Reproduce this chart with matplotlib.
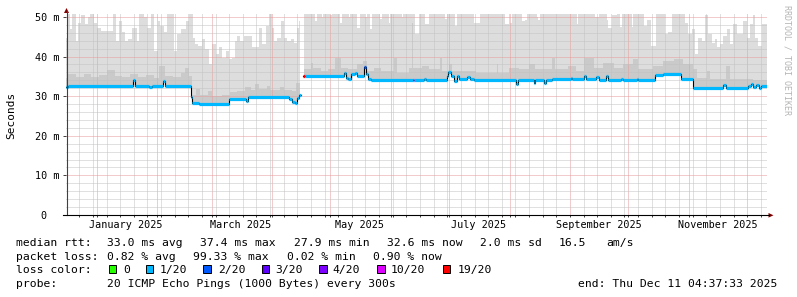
import numpy as np
import matplotlib
matplotlib.use("Agg")
import matplotlib.pyplot as plt
import matplotlib.dates as mdates
from matplotlib.ticker import MultipleLocator, NullFormatter, FuncFormatter
from matplotlib.patches import Rectangle, Polygon
from matplotlib.lines import Line2D
from datetime import datetime

# ---------------- data ----------------
start_time = datetime(2024, 12, 16, 4, 37, 33)
span_days = 360

# median rtt (ms): step changes, day offsets from start
med_day = [0, 1, 34.4, 35.4, 42.6, 44.1, 49.8, 50.8, 64.1, 64.9, 68.2, 83.6, 92.4, 93.4,
           114.4, 116, 117.5, 118.5, 119.8, 120.6, 121.9, 122.6, 142.6, 143.7, 144.7, 146.2,
           148.3, 149.3, 152.9, 153.9, 155, 156.5, 178.2, 178.7, 183.7, 184.7, 195.5, 196.3,
           197.5, 199.1, 200.6, 201.6, 205.8, 207.3, 209.3, 230.9, 232, 240.1, 241.1, 245.3,
           246.3, 249.4, 259.1, 260.1, 265.8, 266.8, 272.4, 273.5, 277.1, 278.1, 284.8, 285.8,
           293, 294, 302.7, 306.8, 316, 322.2, 337.6, 339.1, 350.4, 352, 353, 354.5, 356, 357]
med_val = [32.2, 32.6, 34.0, 32.6, 32.4, 32.6, 33.8, 32.6, 29.8, 28.2, 27.9, 29.2, 28.9, 29.8,
           29.4, 28.6, 28.4, 29.6, 30.3, np.nan, 35.1, 35.1, 35.9, 34.7, 34.3, 35.5,
           35.9, 35.1, 37.4, 35.5, 34.3, 34.0, 34.0, 34.0, 34.4, 34.0, 35.1, 36.2,
           35.1, 33.8, 35.1, 34.3, 34.8, 34.3, 34.0, 33.2, 34.0, 33.4, 34.0, 33.4,
           34.0, 34.3, 34.6, 34.3, 35.0, 34.4, 34.9, 34.2, 35.1, 34.2, 34.4, 34.1,
           34.4, 34.2, 35.3, 35.7, 34.3, 32.1, 32.7, 32.1, 32.5, 33.0, 32.3, 32.8, 32.1, 32.6]
# packet loss per median step (pings lost of 20)
med_loss = [1, 1, 1, 1, 1, 1, 1, 1, 1, 1, 1, 1, 1, 1,
            1, 1, 1, 1, 1, 1, 19, 1, 1, 1, 1, 1,
            1, 1, 2, 1, 1, 1, 10, 1, 1, 1, 1, 1,
            1, 1, 1, 1, 1, 1, 1, 1, 1, 1, 1, 1,
            1, 1, 1, 1, 1, 1, 1, 1, 1, 1, 1, 1,
            1, 1, 1, 1, 1, 1, 1, 1, 1, 1, 1, 1, 1, 1]

# outer smoke (max ping, ms)
light_day = [0, 1, 2, 3, 5, 6, 7.5, 10, 11.5, 12.5, 14.5, 16, 18, 24, 25.5, 27, 29, 30.5, 32,
             34, 36.5, 37.5, 40, 41.5, 43.5, 45, 47, 48.5, 50.5, 52, 55.5, 57, 59, 61.5, 63,
             65, 66.5, 68, 70, 71.5, 73.5, 75, 77, 78.5, 80, 82, 83.5, 85.5, 87, 88, 89.6,
             91.3, 95.6, 99, 100.7, 102.5, 104.2, 105.9, 106.7, 108.4, 110.2, 111.9, 113.5,
             115.3, 117, 118.7, 119.5, 121.2, 122.4, 128.1, 128.9, 131.3, 132, 135.8, 136.5,
             140.9, 141.8, 145.2, 146, 149.5, 150.8, 153.8, 154.5, 156, 156.9, 161.5, 162.3,
             165.7, 166.5, 172.5, 173.3, 179.4, 181.1, 184.6, 186.3, 194.8, 195.6, 200, 200.8,
             209.3, 212.8, 225.6, 227.3, 228.2, 229, 234, 235.9, 236.5, 241.7, 242.5, 243.3,
             262.2, 263, 271.8, 273.5, 277.7, 278.6, 280.3, 282.9, 284.6, 285.4, 290.6, 291.2,
             296.6, 298.3, 300.4, 303.2, 307.7, 309.4, 311.1, 318, 319.6, 321.3, 323, 324.7,
             326.4, 328.1, 329.8, 331.5, 333.2, 334.1, 335.9, 337.6, 339.3, 341, 342.7, 344.4,
             347.8, 349.5, 351.2, 352.9, 353.8, 355.5, 357.3]
light_val = [44.8, 50.7, 46.9, 50.7, 44.0, 48.6, 50.4, 48.2, 50.1, 50.7, 48.6, 47.3, 46.5, 50.7,
             44.0, 49.0, 46.1, 44.0, 44.4, 47.3, 44.0, 50.7, 50.1, 47.3, 50.7, 41.4, 49.0, 47.8,
             46.1, 50.7, 41.4, 45.7, 46.9, 49.0, 50.7, 44.8, 43.1, 42.7, 44.4, 41.8, 38.1, 43.1,
             40.6, 42.3, 39.7, 41.4, 39.3, 39.7, 44.0, 45.3, 44.0, 45.3, 42.3, 47.3, 43.1, 47.8,
             50.7, 47.3, 44.0, 44.8, 49.0, 44.8, 44.0, 44.4, 43.5, 47.3, 49.0, np.nan, 50.7,
             49.0, 50.7, 50.1, 50.7, 50.4, 50.7, 48.6, 50.7, 50.1, 50.7, 47.3, 50.7, 50.1, 50.7,
             46.9, 50.7, 49.6, 50.7, 48.6, 50.7, 50.1, 50.7, 45.7, 50.7, 48.2, 50.7, 49.5, 50.7,
             47.8, 50.7, 48.6, 50.7, 48.2, 50.7, 48.5, 50.7, 49.0, 49.3, 50.7, 50.1, 49.3, 50.7,
             48.2, 50.7, 50.1, 50.7, 49.3, 47.3, 50.4, 50.7, 47.5, 50.7, 47.5, 50.7,
             47.8, 49.3, 42.6, 50.7, 45.6, 46.1, 50.7, 48.6, 45.7, 46.9, 40.6, 44.8,
             44.0, 50.4, 45.7, 43.5, 44.4, 42.3, 43.1, 45.3, 46.9, 43.1, 48.2, 45.7,
             49.0, 44.8, 48.2, 50.4, 44.8, 42.7, 48.2]

# inner smoke (dense part of the ping spread, ms)
dark_day = [0, 1, 5, 9, 13, 17, 21, 25, 29, 33, 37, 41, 45, 48, 51, 55, 59, 61, 63, 64.5, 67,
            69, 73, 75, 80, 84, 88, 92, 95, 97, 99, 103, 105, 110, 112, 116, 118, 120, 121.2,
            122.4, 126, 127, 131, 134.6, 138, 141.2, 144.6, 149.7, 152.5, 154.6, 158, 161.6,
            168.3, 170, 176, 177.6, 178.3, 182.8, 186.3, 192.3, 193.1, 196.5, 198.2, 210.4,
            221.2, 222, 227.3, 232.4, 237.6, 241, 249.5, 251.2, 258, 261.7, 265.8, 270.9, 276,
            281.2, 286.3, 291.4, 294, 301.7, 306.8, 312, 317.1, 322.2, 323.9, 329, 330.7,
            339.1, 340.8, 352.7]
dark_val = [34.7, 35.5, 34.8, 35.6, 34.8, 35.3, 36.6, 35.2, 34.8, 35.6, 34.8, 35.3, 34.6, 37.6,
            35.2, 34.8, 35.9, 37.0, 35.0, 30.4, 31.8, 30.2, 31.2, 30.0, 30.4, 31.0, 31.4, 32.2,
            31.6, 33.2, 31.8, 32.6, 31.6, 32.4, 31.6, 31.4, 33.4, 32.0, np.nan, 36.8, 38.5, 37.2,
            36.4, 36.8, 39.7, 37.2, 36.8, 38.1, 39.0, 36.4, 37.2, 36.4, 39.7, 35.9, 37.2, 48.5,
            37.2, 37.6, 36.8, 39.7, 36.4, 38.1, 36.4, 35.9, 38.1, 35.9, 37.2, 36.8, 38.1, 36.8,
            39.7, 36.8, 37.6, 36.4, 39.7, 37.2, 38.5, 37.2, 38.1, 39.3, 36.8, 37.6, 38.9, 39.3,
            38.1, 36.8, 34.7, 36.4, 34.3, 37.6, 34.3, 34.0]

y_ticks = [0, 10, 20, 30, 40, 50]
y_tick_labels = ["0  ", "10 m", "20 m", "30 m", "40 m", "50 m"]
month_labels = ["January 2025", "March 2025", "May 2025", "July 2025",
                "September 2025", "November 2025"]
month_label_dates = [datetime(2025, 1, 16), datetime(2025, 3, 16), datetime(2025, 5, 16),
                     datetime(2025, 7, 16), datetime(2025, 9, 16), datetime(2025, 11, 16)]

loss_names = ["0", "1/20", "2/20", "3/20", "4/20", "10/20", "19/20"]
loss_counts = [0, 1, 2, 3, 4, 10, 19]
loss_colors = ["#26ff00", "#00b8ff", "#0059ff", "#5e00ff", "#7e00ff", "#dd00ff", "#ff0000"]

# ---------------- figure ----------------
W, H = 797, 297
MONO = "DejaVu Sans Mono"
fig = plt.figure(figsize=(W / 100, H / 100), dpi=100)
fig.patch.set_facecolor("white")


def fx(px):
    return px / W


def fy(py):
    return 1 - py / H


ax = fig.add_axes([fx(66), fy(215), 701 / W, 202 / H])
ax.set_facecolor("white")
t0 = mdates.date2num(start_time)


def d2n(days):
    return t0 + np.asarray(days, dtype=float)


ax.set_xlim(d2n(0), d2n(span_days))
ax.set_ylim(0, 51)

# smoke
x_all = np.append(np.union1d(np.union1d(med_day, light_day), dark_day), span_days)


def step_at(days, vals, x):
    idx = np.searchsorted(np.asarray(days, float), x, side="right") - 1
    return np.asarray(vals, dtype=float)[idx]


m_all = step_at(med_day, med_val, x_all)
l_all = step_at(light_day, light_val, x_all)
d_all = step_at(dark_day, dark_val, x_all)
ax.fill_between(d2n(x_all), m_all, l_all, step="post", color="#dddddd", lw=0, zorder=1)
ax.fill_between(d2n(x_all), m_all, d_all, step="post", color="#cacaca", lw=0, zorder=1.1)

# median line
ends = list(med_day[1:]) + [span_days]
ax.step(d2n(list(med_day) + [span_days]), list(med_val) + [med_val[-1]], where="post",
        color="black", lw=0.8, zorder=3)
cmap = dict(zip(loss_counts, loss_colors))
for s, e, v, l in zip(med_day, ends, med_val, med_loss):
    if np.isnan(v):
        continue
    ax.hlines(v, d2n(s), d2n(e), colors=cmap[l], lw=2.3, zorder=4)

# grid
ax.set_axisbelow("line")
ax.xaxis.set_major_locator(mdates.MonthLocator())
ax.xaxis.set_minor_locator(mdates.WeekdayLocator(byweekday=mdates.MO))
ax.xaxis.set_major_formatter(NullFormatter())
ax.xaxis.set_minor_formatter(NullFormatter())
ax.yaxis.set_major_locator(MultipleLocator(10))
ax.yaxis.set_minor_locator(MultipleLocator(2))
ax.yaxis.set_major_formatter(FuncFormatter(
    lambda v, p: y_tick_labels[y_ticks.index(int(round(v)))] if int(round(v)) in y_ticks else ""))
ax.grid(which="major", color="#e79a9a", linestyle=(0, (1, 1)), lw=0.72)
ax.grid(which="minor", color="#c2c2c2", linestyle=(0, (1, 1)), lw=0.72)

for sp in ax.spines.values():
    sp.set_visible(False)
ax.tick_params(axis="y", which="major", length=2.2, width=0.7, color="#404040",
               pad=2.5, labelsize=7.3, direction="out")
ax.tick_params(axis="y", which="minor", length=0)
ax.tick_params(axis="x", which="both", length=1.6, width=0.7, color="#404040", direction="out")
for lab in ax.get_yticklabels():
    lab.set_fontfamily(MONO)

# month labels
for d, txt in zip(month_label_dates, month_labels):
    ax.text(mdates.date2num(d), (215 - 227.5) / 202, txt, transform=ax.get_xaxis_transform(),
            ha="center", va="baseline", fontsize=7.3, family=MONO, color="black")

# axis lines and arrows
fig.add_artist(Line2D([fx(66.5), fx(66.5)], [fy(215), fy(11)], color="#404040", lw=0.8))
fig.add_artist(Line2D([fx(63), fx(769)], [fy(215.3), fy(215.3)], color="black", lw=0.8))
fig.add_artist(Polygon([[fx(64), fy(13)], [fx(69), fy(13)], [fx(66.5), fy(8)]],
                       closed=True, facecolor="#800000", edgecolor="none"))
fig.add_artist(Polygon([[fx(768.5), fy(213)], [fx(768.5), fy(217.6)], [fx(773.5), fy(215.3)]],
                       closed=True, facecolor="#800000", edgecolor="none"))

# axis title + watermark
fig.text(fx(11), fy(115), "Seconds", rotation=90, ha="center", va="center",
         fontsize=8, family=MONO)
fig.text(fx(787), fy(60), "RRDTOOL / TOBI OETIKER", rotation=270, ha="center", va="center",
         fontsize=6.0, family=MONO, color="#b4b4b4")

# legend text
LS = 8.2
line1 = [(16.3, "median rtt:"), (107.3, "33.0 ms avg"), (199.5, "37.4 ms max"),
         (293.5, "27.9 ms min"), (387, "32.6 ms now"), (479.5, "2.0 ms sd"),
         (558.5, "16.5"), (606.7, "am/s")]
line2 = [(16.3, "packet loss:"), (107.3, "0.82 % avg"), (193.3, "99.33 % max"),
         (286.7, "0.02 % min"), (372.7, "0.90 % now")]
line4 = [(16.3, "probe:"), (107.3, "20 ICMP Echo Pings (1000 Bytes) every 300s"),
         (578.3, "end: Thu Dec 11 04:37:33 2025")]
for base, items in ((245.7, line1), (259.5, line2), (287.3, line4)):
    for x, t in items:
        fig.text(fx(x), fy(base), t, ha="left", va="baseline", fontsize=LS, family=MONO)

fig.text(fx(16.3), fy(273.3), "loss color:", ha="left", va="baseline", fontsize=LS, family=MONO)
box_x = [109, 146, 203.3, 261.7, 319.3, 377.3, 442.7]
text_x = [123.3, 160, 217.7, 275, 332.7, 391, 457.3]
for bx, tx, name, col in zip(box_x, text_x, loss_names, loss_colors):
    fig.add_artist(Rectangle((fx(bx), fy(273.3)), 7.3 / W, 8 / H, transform=fig.transFigure,
                             facecolor=col, edgecolor="black", lw=0.7))
    fig.text(fx(tx), fy(273.3), name, ha="left", va="baseline", fontsize=LS, family=MONO)

fig.savefig("out.png", dpi=100, facecolor="white")
